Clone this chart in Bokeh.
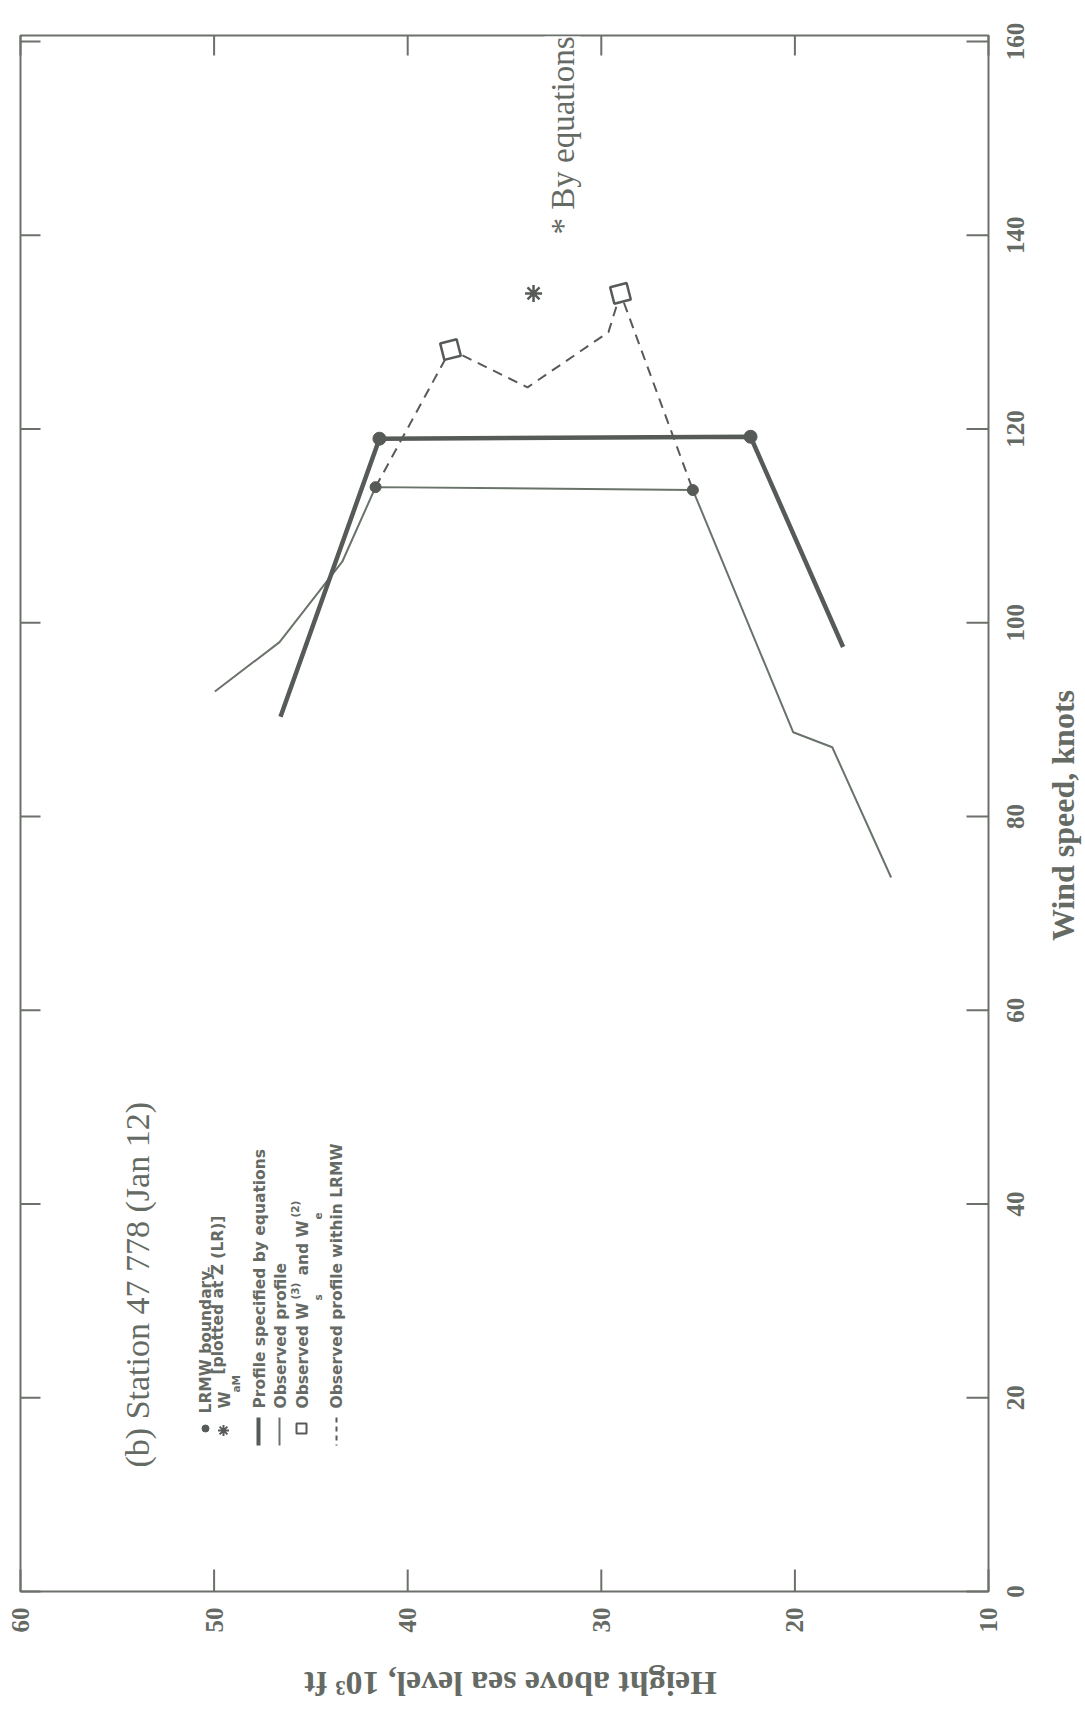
import math
from bokeh.plotting import figure
from bokeh.models import Range1d, Label
from bokeh.embed import file_html
from bokeh.resources import INLINE

# ---------------- data ----------------
height_ticks = [10, 20, 30, 40, 50, 60]          # 10^3 ft
wind_ticks = [0, 20, 40, 60, 80, 100, 120, 140, 160]  # knots
height_labels = [str(t) for t in height_ticks]
wind_labels = [str(t) for t in wind_ticks]

# profile specified by equations (thick)
eq_height = [46.57, 41.46, 22.29, 17.51]
eq_wind = [90.3, 119.0, 119.2, 97.5]

# observed profile (thin)
obs_height = [49.96, 46.62, 43.38, 41.66, 25.27, 20.09, 18.07, 15.03]
obs_wind = [92.9, 98.0, 106.3, 114.0, 113.7, 88.7, 87.15, 73.7]

# observed profile within LRMW (dashed)
lrmw_height = [41.66, 37.79, 33.81, 29.63, 29.01, 25.27]
lrmw_wind = [114.0, 128.2, 124.3, 130.0, 134.0, 113.7]

# LRMW boundary points
bnd_eq_height = [41.46, 22.29]
bnd_eq_wind = [119.0, 119.2]
bnd_obs_height = [41.66, 25.27]
bnd_obs_wind = [114.0, 113.7]

# observed Ws(3) and We(2)
wswe_height = [37.79, 29.01]
wswe_wind = [128.2, 134.0]

# WaM by equations
wam_height = [33.5]
wam_wind = [134.0]

x_title = "Height above sea level, 10³ ft"
y_title = "Wind speed, knots"

# ---------------- geometry / styling ----------------
AX = "#6c706a"
TXT = "#656a64"
THICK = "#575b57"
THIN = "#6a736a"

W_, H_ = 1085, 1711
BL, BR, BT, BB = 20, 988, 35, 1591          # chart box in page pixels
HX0, HX1 = height_ticks[-1], height_ticks[0]  # 60 at left, 10 at right
KX = (BR - BL) / (HX0 - HX1)                 # px per 1000 ft
KY = (BB - 41) / float(wind_ticks[-1])       # px per knot (160 kn at y=41)


def H(px):
    return HX0 - (px - BL) / KX


def Wd(py):
    return (BB - py) / KY


YTOP = Wd(BT)

p = figure(width=W_, height=H_, x_range=Range1d(H(0), H(W_)), y_range=Range1d(Wd(H_), Wd(0)),
           output_backend="svg", toolbar_location=None,
           x_axis_location=None, y_axis_location=None,
           min_border_left=0, min_border_right=0, min_border_top=0, min_border_bottom=0)
p.grid.grid_line_color = None
p.outline_line_color = None
p.background_fill_color = "white"
p.border_fill_color = "white"

# chart box
p.quad(left=[HX0], right=[HX1], bottom=[wind_ticks[0]], top=[YTOP],
       fill_color=None, line_color=AX, line_width=2)

# inward tick marks on all four sides
nh, nw = len(height_ticks), len(wind_ticks)
p.segment(height_ticks, [0] * nh, height_ticks, [22 / KY] * nh, line_color=AX, line_width=2)
p.segment(height_ticks, [YTOP] * nh, height_ticks, [YTOP - 20 / KY] * nh, line_color=AX, line_width=2)
p.segment([HX1] * nw, wind_ticks, [HX1 + 22 / KX] * nw, wind_ticks, line_color=AX, line_width=2)
p.segment([HX0] * nw, wind_ticks, [HX0 - 20 / KX] * nw, wind_ticks, line_color=AX, line_width=2)

# tick labels (rotated, reading bottom-to-top)
R = math.pi / 2
p.text(x=height_ticks, y=[Wd(1607)] * nh, text=height_labels, angle=R,
       text_align="right", text_baseline="middle", text_font="Liberation Serif",
       text_font_style="bold", text_font_size="25px", text_color=TXT)
p.text(x=[H(1006)] * nw, y=wind_ticks, text=wind_labels, angle=R,
       text_align="center", text_baseline="top", text_font="Liberation Serif",
       text_font_style="bold", text_font_size="25px", text_color=TXT)

# ---------------- data marks ----------------
p.line(obs_height, obs_wind, line_color=THIN, line_width=2)
p.line(eq_height, eq_wind, line_color=THICK, line_width=4.5)
p.line(lrmw_height, lrmw_wind, line_color=THICK, line_width=2, line_dash="10 7")
p.scatter(bnd_eq_height, bnd_eq_wind, marker="circle", size=13, fill_color=THICK, line_color=THICK)
p.scatter(bnd_obs_height, bnd_obs_wind, marker="circle", size=11, fill_color=THICK, line_color=THICK)
p.scatter(wswe_height, wswe_wind, marker="square", size=17, fill_color="white",
          line_color=THICK, line_width=2.5, angle=0.25)
p.scatter(wam_height, wam_wind, marker="asterisk", size=17, line_color=THICK, line_width=2.5)


def txt(px, py, s, angle, size, font, style="normal", align="left", baseline="middle",
        color=TXT, bg=None):
    p.add_layout(Label(x=H(px), y=Wd(py), text=s, angle=angle, text_font=font,
                       text_font_size=f"{size}px", text_font_style=style,
                       text_align=align, text_baseline=baseline, text_color=color,
                       background_fill_color=bg))


# axis titles
txt(1062, 815, y_title, R, 32, "Liberation Serif", "bold", align="center")
txt(510, 1683, x_title, math.pi, 34, "Liberation Serif", "bold", align="center")

# annotation (crosses the top border, as in the original)
txt(562, 234, "* By equations", R, 33, "Liberation Serif", bg="white")

# panel title
txt(137, 1467, "(b)  Station 47 778 (Jan 12)", R, 34, "Liberation Serif")

# legend (rotated)
LF = "DejaVu Sans"
LS = 15.5
SS = 10.5
txt(205, 1413, "LRMW boundary", R, LS, LF, "bold")
txt(224, 1408, "W", R, LS, LF, "bold")
txt(235, 1392, "aM", R, SS, LF, "bold")
txt(217, 1374, "[plotted at Z̄ (LR)]", R, LS, LF, "bold")
txt(259, 1408, "Profile specified by equations", R, LS, LF, "bold")
txt(280, 1408, "Observed profile", R, LS, LF, "bold")
txt(302, 1408, "Observed W", R, LS, LF, "bold")
txt(317, 1300, "s", R, SS, LF, "bold")
txt(294, 1299, "(3)", R, SS, LF, "bold")
txt(302, 1275, "and W", R, LS, LF, "bold")
txt(317, 1219, "e", R, SS, LF, "bold")
txt(294, 1217, "(2)", R, SS, LF, "bold")
txt(336, 1408, "Observed profile within LRMW", R, LS, LF, "bold")

# legend symbols
p.scatter([H(205)], [Wd(1428)], marker="circle", size=7, fill_color=THICK, line_color=THICK)
p.scatter([H(223)], [Wd(1430)], marker="asterisk", size=11, line_color=THICK, line_width=2)
p.segment([H(258)], [Wd(1417)], [H(258)], [Wd(1445)], line_color=THICK, line_width=4)
p.segment([H(279)], [Wd(1417)], [H(279)], [Wd(1445)], line_color=THIN, line_width=2)
p.scatter([H(301)], [Wd(1428)], marker="square", size=10, fill_color="white",
          line_color=THICK, line_width=2)
p.segment([H(336)], [Wd(1417)], [H(336)], [Wd(1445)], line_color=THICK, line_width=2,
          line_dash="5 4")

open("out.html", "w").write(file_html(p, INLINE))
